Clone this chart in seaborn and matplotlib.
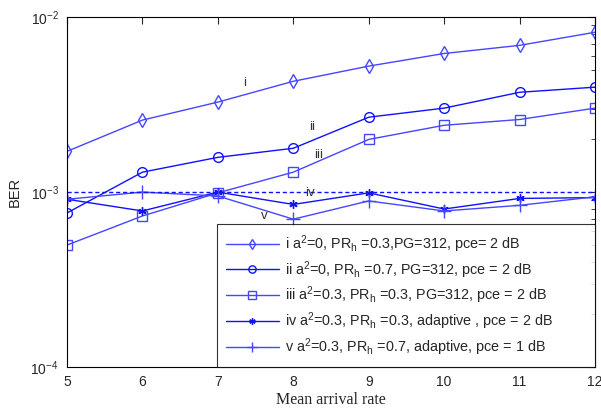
import numpy as np
import pandas as pd
import matplotlib
matplotlib.use("Agg")
import matplotlib.pyplot as plt
import seaborn as sns

# data
rate = [5, 6, 7, 8, 9, 10, 11, 12]
ber_i = [1.71e-3, 2.58e-3, 3.27e-3, 4.3e-3, 5.25e-3, 6.2e-3, 6.9e-3, 8.2e-3]
ber_ii = [7.6e-4, 1.3e-3, 1.58e-3, 1.78e-3, 2.68e-3, 3.02e-3, 3.72e-3, 3.98e-3]
ber_iii = [4.98e-4, 7.3e-4, 9.9e-4, 1.3e-3, 2.0e-3, 2.41e-3, 2.6e-3, 3.02e-3]
ber_iv = [9.1e-4, 7.8e-4, 1.0e-3, 8.5e-4, 9.9e-4, 8.0e-4, 9.2e-4, 9.3e-4]
ber_v = [9.1e-4, 1.0e-3, 9.5e-4, 7.0e-4, 8.9e-4, 7.8e-4, 8.4e-4, 9.4e-4]
threshold = 1e-3

labels = [
    r"i a$^2$=0, PR$_\mathregular{h}$ =0.3,PG=312, pce= 2 dB",
    r"ii a$^2$=0, PR$_\mathregular{h}$ =0.7, PG=312, pce = 2 dB",
    r"iii a$^2$=0.3, PR$_\mathregular{h}$ =0.3, PG=312, pce = 2 dB",
    r"iv a$^2$=0.3, PR$_\mathregular{h}$ =0.3, adaptive , pce = 2 dB",
    r"v a$^2$=0.3, PR$_\mathregular{h}$ =0.7, adaptive, pce = 1 dB",
]
short = ["i", "ii", "iii", "iv", "v"]
short_x = [7.36, 8.25, 8.33, 8.22, 7.62]
short_y = [4.2e-3, 2.35e-3, 1.63e-3, 9.87e-4, 7.3e-4]

sns.set_style("white")
plt.rcParams['font.family'] = ['Liberation Sans', 'DejaVu Sans']
plt.rcParams['mathtext.fontset'] = 'custom'
plt.rcParams['mathtext.rm'] = 'Liberation Sans'

fig = plt.figure(figsize=(6.01, 4.09), dpi=100)
ax = fig.add_axes([0.1115, 0.1027, 0.8785, 0.8553])

series = [ber_i, ber_ii, ber_iii, ber_iv, ber_v]
markers = ['d', 'o', 's', (6, 2, 0), '+']
msizes = [7, 7, 7.5, 6, 10]
colors = ['#4646ff', '#1010ff', '#4646ff', '#1010ff', '#4646ff']

for vals, lab, mk, ms, c in zip(series, labels, markers, msizes, colors):
    df = pd.DataFrame({'rate': rate, 'ber': vals})
    sns.lineplot(data=df, x='rate', y='ber', ax=ax, color=c, marker=mk,
                 markersize=ms, markerfacecolor='none', markeredgecolor=c,
                 markeredgewidth=1.0, linewidth=1.0, label=lab)

ax.axhline(threshold, color='#1010ff', linestyle='--', linewidth=1.0, dashes=(3, 2))

ax.set_yscale('log')
ax.set_xlim(5, 12)
ax.set_ylim(1e-4, 1e-2)
ax.set_xticks(rate)
ax.tick_params(axis='both', which='both', direction='in', top=True, right=True,
               labelsize=10, pad=6)
ax.tick_params(axis='both', which='major', length=5)
ax.tick_params(axis='y', which='minor', length=3)
for s in ax.spines.values():
    s.set_color('black')
    s.set_linewidth(0.8)

ax.set_xlabel('Mean arrival rate', family=['Liberation Serif'], fontsize=11.5, labelpad=2)
ax.set_ylabel('BER', fontsize=10.5, labelpad=6)

# curve labels
for txt, x, y in zip(short, short_x, short_y):
    ax.text(x, y, txt, fontsize=9.5, color='#333333', ha='center', va='center')

leg = ax.legend(loc='lower left', bbox_to_anchor=(0.284, 0.0, 0.716, 0.4),
                mode='expand', fontsize=10.4, frameon=True, fancybox=False,
                edgecolor='black', handlelength=3.7, labelspacing=0.3,
                borderaxespad=0.0, borderpad=0.6, handletextpad=0.4,
                markerscale=0.75)
leg.get_frame().set_linewidth(0.8)

fig.savefig('out.png', dpi=100)
